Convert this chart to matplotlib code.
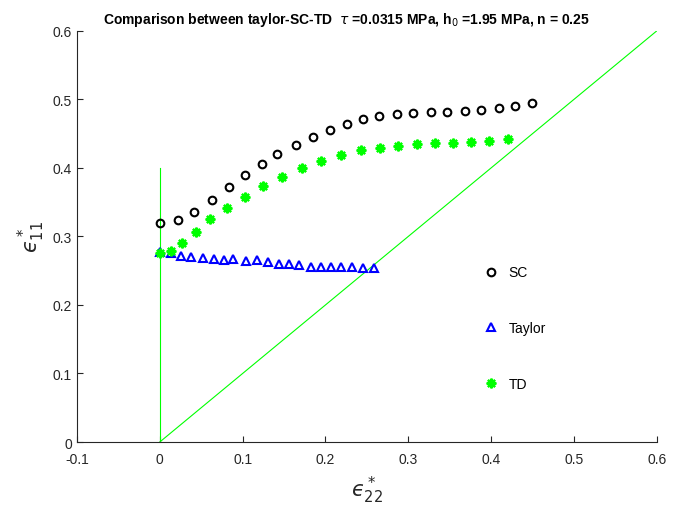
import matplotlib.pyplot as plt

# SC (self-consistent) results
sc_x = [0.0, 0.0217, 0.041, 0.063, 0.083, 0.103, 0.123, 0.142, 0.164, 0.185, 0.205,
        0.226, 0.245, 0.265, 0.286, 0.306, 0.327, 0.347, 0.368, 0.388, 0.409, 0.429, 0.449]
sc_y = [0.320, 0.324, 0.336, 0.353, 0.372, 0.390, 0.406, 0.420, 0.434, 0.445, 0.455,
        0.464, 0.472, 0.476, 0.479, 0.480, 0.482, 0.482, 0.483, 0.485, 0.488, 0.490, 0.495]

# Taylor results
taylor_x = [0.0, 0.0133, 0.0254, 0.0374, 0.0519, 0.0651, 0.0772, 0.0881, 0.1037, 0.1170,
            0.1303, 0.1435, 0.1556, 0.1677, 0.1821, 0.1942, 0.2063, 0.2183, 0.2316,
            0.2449, 0.2582]
taylor_y = [0.277, 0.276, 0.272, 0.270, 0.269, 0.267, 0.266, 0.267, 0.264, 0.266,
            0.263, 0.260, 0.260, 0.258, 0.255, 0.255, 0.255, 0.255, 0.255, 0.254, 0.254]

# TD results
td_x = [0.0, 0.0133, 0.0265, 0.0434, 0.0603, 0.0808, 0.1025, 0.1242, 0.1472, 0.1713,
        0.1942, 0.2183, 0.2424, 0.2654, 0.2871, 0.3100, 0.3317, 0.3534, 0.3752, 0.3969,
        0.4198]
td_y = [0.276, 0.279, 0.291, 0.307, 0.326, 0.342, 0.358, 0.374, 0.387, 0.400,
        0.410, 0.419, 0.426, 0.429, 0.432, 0.435, 0.436, 0.436, 0.438, 0.439, 0.442]

# reference lines
diag = [0.0, 0.6]
vert_x = [0.0, 0.0]
vert_y = [0.0, 0.4]

plt.rcParams["font.family"] = ["Liberation Sans", "DejaVu Sans"]

fig = plt.figure(figsize=(6.75, 5.06), dpi=100)
ax = fig.add_axes([0.114, 0.1245, 0.859, 0.8125])

green = "#00ff00"
ax.plot(diag, diag, color=green, lw=0.8)
ax.plot(vert_x, vert_y, color=green, lw=0.8)

ax.plot(sc_x, sc_y, "o", ls="none", mfc="none", mec="black", ms=5.5, mew=1.5, label="SC")
ax.plot(taylor_x, taylor_y, "^", ls="none", mfc="none", mec="blue", ms=6, mew=1.5,
        label="Taylor")
ax.plot(td_x, td_y, marker=(8, 2, 0), ls="none", color=green, mec=green, ms=7, mew=1.6,
        label="TD")

ax.set_xlim(-0.1, 0.6)
ax.set_ylim(0, 0.6)
ax.set_xticks([-0.1, 0, 0.1, 0.2, 0.3, 0.4, 0.5, 0.6])
ax.set_xticklabels(["-0.1", "0", "0.1", "0.2", "0.3", "0.4", "0.5", "0.6"])
ax.set_yticks([0, 0.1, 0.2, 0.3, 0.4, 0.5, 0.6])
ax.set_yticklabels(["0", "0.1", "0.2", "0.3", "0.4", "0.5", "0.6"])

ax.spines["top"].set_visible(False)
ax.spines["right"].set_visible(False)
for s in ("left", "bottom"):
    ax.spines[s].set_color("#262626")
    ax.spines[s].set_linewidth(0.8)
ax.tick_params(direction="in", length=4, width=0.8, colors="#262626", labelsize=10,
               labelcolor="#262626")
ax.tick_params(axis="x", pad=7)

ax.set_xlabel("$ϵ^*_{22}$", fontsize=15, color="#262626", labelpad=6)
ax.set_ylabel("$ϵ^*_{11}$", fontsize=15, color="#262626", labelpad=4)
ax.set_title(r"Comparison between taylor-SC-TD  $\tau$ =0.0315 MPa, h$_0$ =1.95 MPa, n = 0.25",
             fontsize=10, fontweight="bold", pad=6, x=0.465)

ax.legend(loc="center left", bbox_to_anchor=(0.68, 0.277), frameon=False, fontsize=10,
          labelspacing=3.0, handlelength=1.0, handletextpad=0.8, numpoints=1)

fig.savefig("out.png", dpi=100)
